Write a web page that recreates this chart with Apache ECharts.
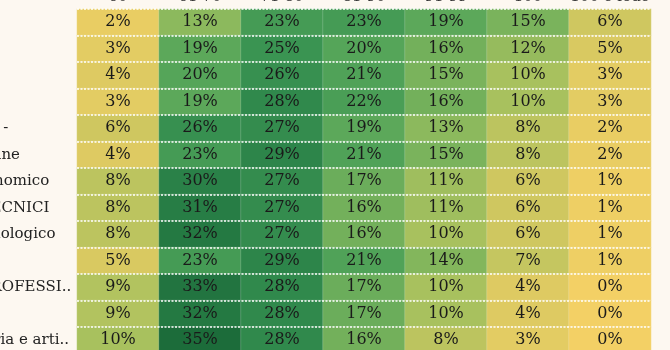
<!DOCTYPE html>
<html>
<head>
<meta charset="utf-8">
<script src="https://cdn.jsdelivr.net/npm/echarts@6/dist/echarts.min.js"></script>
<style>
  html, body { margin: 0; padding: 0; background: #fdf8f1; }
  #chart { width: 670px; height: 350px; }
</style>
</head>
<body>
<div id="chart"></div>
<script>
const columns = ["60", "61-70", "71-80", "81-90", "91-99", "100", "100 e lode"];
const rows = [
  "Classico", "Scientifico", "Linguistico", "LICEI", "Sc applicate -",
  "Scienze umane", "Tecnico economico", "ISTITUTI TECNICI", "Tecnico tecnologico",
  "Servizi", "ISTITUTI PROFESSIONALI", "Alberghiero", "Prof. industria e artigianato"
];
const r01 = [2, 13, 23, 23, 19, 15, 6];
const r02 = [3, 19, 25, 20, 16, 12, 5];
const r03 = [4, 20, 26, 21, 15, 10, 3];
const r04 = [3, 19, 28, 22, 16, 10, 3];
const r05 = [6, 26, 27, 19, 13, 8, 2];
const r06 = [4, 23, 29, 21, 15, 8, 2];
const r07 = [8, 30, 27, 17, 11, 6, 1];
const r08 = [8, 31, 27, 16, 11, 6, 1];
const r09 = [8, 32, 27, 16, 10, 6, 1];
const r10 = [5, 23, 29, 21, 14, 7, 1];
const r11 = [9, 33, 28, 17, 10, 4, 0];
const r12 = [9, 32, 28, 17, 10, 4, 0];
const r13 = [10, 35, 28, 16, 8, 3, 0];
const values = [r01, r02, r03, r04, r05, r06, r07, r08, r09, r10, r11, r12, r13];

const data = [];
values.forEach((row, ri) => row.forEach((v, ci) => data.push([ci, ri, v])));

const FONT = "'DejaVu Serif', 'Liberation Serif', serif";
const chart = echarts.init(document.getElementById('chart'), null, { renderer: 'canvas' });
chart.setOption({
  backgroundColor: '#fdf8f1',
  animation: false,
  grid: { left: 77, top: 9, width: 574, height: 344.5, containLabel: false, outerBoundsMode: 'none' },
  xAxis: {
    type: 'category', data: columns, position: 'top',
    axisLine: { show: false }, axisTick: { show: false }, splitLine: { show: false },
    axisLabel: { interval: 0, margin: 4, hideOverlap: false, fontFamily: FONT, fontSize: 15, color: '#333' }
  },
  yAxis: {
    type: 'category', data: rows, inverse: true, z: 5,
    axisLine: { show: false }, axisTick: { show: false },
    splitLine: { show: true, lineStyle: { color: '#ffffff', type: [2, 1.5], width: 1.5 } },
    axisLabel: {
      interval: 0, align: 'left', margin: 172, fontFamily: FONT, fontSize: 15, color: '#222',
      overflow: 'truncate', width: 174, ellipsis: '..'
    }
  },
  visualMap: {
    show: false, min: 0, max: 35, dimension: 2,
    inRange: { color: ['#f3d065', '#d9c961', '#a8c15e', '#7ab35c', '#55a559', '#3a9452', '#2a8148', '#1c6c3a'] }
  },
  series: [{
    type: 'heatmap', data: data,
    itemStyle: { borderColor: 'rgba(255,255,255,0.18)', borderWidth: 1 },
    label: { show: true, formatter: p => p.value[2] + '%', fontFamily: FONT, fontSize: 16, color: '#1a1a1a' },
    emphasis: { disabled: true }
  }]
});
</script>
</body>
</html>
